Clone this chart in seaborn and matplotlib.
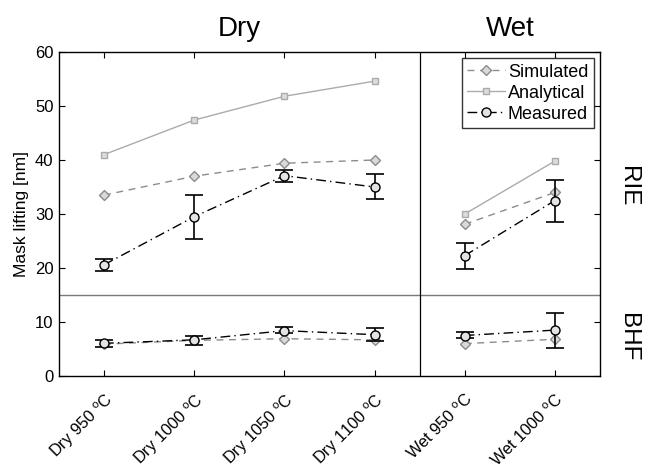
import matplotlib
matplotlib.use("Agg")
import matplotlib.pyplot as plt
import seaborn as sns
import numpy as np
import pandas as pd

# ---------------- data ----------------
categories = ["Dry 950 $^{\\mathrm{o}}$C", "Dry 1000 $^{\\mathrm{o}}$C", "Dry 1050 $^{\\mathrm{o}}$C",
              "Dry 1100 $^{\\mathrm{o}}$C", "Wet 950 $^{\\mathrm{o}}$C", "Wet 1000 $^{\\mathrm{o}}$C"]
groups = ["Dry", "Dry", "Dry", "Dry", "Wet", "Wet"]

rie_analytical = [41.0, 47.4, 51.8, 54.6, 30.0, 39.8]
rie_simulated = [33.5, 37.0, 39.4, 40.0, 28.1, 34.0]
rie_measured = [20.6, 29.5, 37.1, 35.0, 22.3, 32.5]
rie_meas_low = [19.4, 25.3, 35.9, 32.7, 19.9, 28.6]
rie_meas_high = [21.6, 33.6, 38.1, 37.4, 24.7, 36.3]

bhf_simulated = [5.9, 6.6, 6.9, 6.7, 6.0, 6.8]
bhf_measured = [6.05, 6.7, 8.4, 7.65, 7.5, 8.5]
bhf_meas_low = [5.4, 5.7, 7.9, 6.4, 7.1, 5.2]
bhf_meas_high = [6.6, 7.5, 9.1, 8.8, 8.1, 11.7]

yticks = [0, 10, 20, 30, 40, 50, 60]
panel_rows = ["RIE", "BHF"]

# ---------------- figure ----------------
sns.set_theme(style="white")
plt.rcParams['font.family'] = ['Liberation Sans', 'DejaVu Sans']
plt.rcParams['mathtext.fontset'] = 'custom'
plt.rcParams['mathtext.rm'] = 'Liberation Sans'
for k in ['text.color', 'axes.labelcolor', 'xtick.color', 'ytick.color']:
    plt.rcParams[k] = 'black'

fig = plt.figure(figsize=(6.49, 4.70), dpi=100)
ax = fig.add_axes([59 / 649, 1 - 376 / 470, (600 - 59) / 649, (376 - 52) / 470])

pos = np.arange(1, len(categories) + 1)
df = pd.DataFrame({
    "pos": pos, "group": groups,
    "rie_ana": rie_analytical, "rie_sim": rie_simulated, "rie_mea": rie_measured,
    "rie_lo": rie_meas_low, "rie_hi": rie_meas_high,
    "bhf_sim": bhf_simulated, "bhf_mea": bhf_measured,
    "bhf_lo": bhf_meas_low, "bhf_hi": bhf_meas_high,
})

sim_style = dict(color="#8c8c8c", linestyle=(0, (5, 4)), linewidth=1.0, marker="D",
                 markersize=5.5, markerfacecolor="#d9d9d9", markeredgecolor="#8c8c8c",
                 markeredgewidth=1.0)
ana_style = dict(color="#ababab", linestyle="-", linewidth=1.0, marker="s",
                 markersize=5.0, markerfacecolor="#dcdcdc", markeredgecolor="#ababab",
                 markeredgewidth=1.0)
mea_style = dict(color="black", linestyle=(0, (7, 3, 1, 3)), linewidth=1.0, marker="o",
                 markersize=6.5, markerfacecolor="#e4e4e4", markeredgecolor="black",
                 markeredgewidth=1.0)

first = True
for g in ["Dry", "Wet"]:
    sub = df[df["group"] == g]
    for prefix in ["rie", "bhf"]:
        if prefix == "rie":
            sns.lineplot(data=sub, x="pos", y="rie_ana", ax=ax, sort=False, estimator=None,
                         label="Analytical" if first else None, zorder=3, **ana_style)
        sns.lineplot(data=sub, x="pos", y=prefix + "_sim", ax=ax, sort=False, estimator=None,
                     label="Simulated" if (first and prefix == "rie") else None, zorder=3, **sim_style)
        ax.errorbar(sub["pos"], sub[prefix + "_mea"],
                    yerr=[sub[prefix + "_mea"] - sub[prefix + "_lo"], sub[prefix + "_hi"] - sub[prefix + "_mea"]],
                    fmt="none", ecolor="black", elinewidth=1.2, capsize=6.2, capthick=1.2, zorder=4)
        sns.lineplot(data=sub, x="pos", y=prefix + "_mea", ax=ax, sort=False, estimator=None,
                     label="Measured" if (first and prefix == "rie") else None, zorder=5, **mea_style)
    first = False

ax.axhline(15, color="#7a7a7a", linewidth=1.0, zorder=2)
ax.axvline(4.5, color="black", linewidth=0.9, zorder=2)

ax.set_xlim(0.5, 6.5)
ax.set_ylim(0, 60)
ax.set_yticks(yticks)
ax.set_xticks(pos)
ax.set_xticklabels(categories, rotation=45, ha="right", va="top", rotation_mode="anchor",
                   fontsize=11.8)
ax.tick_params(axis="y", labelsize=12)
ax.tick_params(direction="in", length=4, width=0.8, top=True, right=True, bottom=True, left=True,
               colors="black", pad=4)
ax.tick_params(axis="x", pad=10.5)
ax.set_xlabel("")
ax.set_ylabel("Mask lifting [nm]", fontsize=12.5, labelpad=4)
for s in ax.spines.values():
    s.set_color("black")
    s.set_linewidth(1.0)

# legend order: Simulated, Analytical, Measured
handles, labels = ax.get_legend_handles_labels()
order = [labels.index(l) for l in ["Simulated", "Analytical", "Measured"]]
leg = ax.legend([handles[i] for i in order], [labels[i] for i in order], loc="upper right",
                fontsize=13, frameon=True, fancybox=False, edgecolor="black",
                borderpad=0.3, labelspacing=0.22, handlelength=2.1, handletextpad=0.15,
                borderaxespad=0.35)
leg.get_frame().set_linewidth(1.0)

# group titles and row labels
ax.text(2.5, 1.049, "Dry", transform=ax.get_xaxis_transform(), ha="center", va="baseline", fontsize=20)
ax.text(5.5, 1.049, "Wet", transform=ax.get_xaxis_transform(), ha="center", va="baseline", fontsize=20)
ax.text(1.052, 35.2, panel_rows[0], transform=ax.get_yaxis_transform(), ha="center", va="center",
        rotation=-90, fontsize=17.5)
ax.text(1.052, 7.2, panel_rows[1], transform=ax.get_yaxis_transform(), ha="center", va="center",
        rotation=-90, fontsize=17.5)

fig.savefig("out.png", dpi=100)
